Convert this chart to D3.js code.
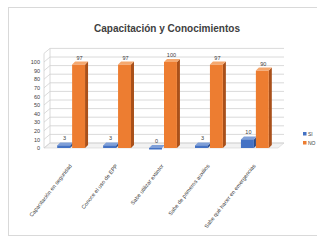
<!DOCTYPE html>
<html>
<head>
<meta charset="utf-8">
<script src="https://cdn.jsdelivr.net/npm/d3@7"></script>
<style>
  body { margin: 0; background: #fff; }
  svg { display: block; font-family: "Liberation Sans", Arial, sans-serif; }
</style>
</head>
<body>
<div class="container"></div>
<script>
const width = 317;
const height = 246;

// datos
const categorias = [
  'Capacitación en seguridad',
  'Conoce el uso de EPP',
  'Sabe utilizar extintor',
  'Sabe de primeros auxilios',
  'Sabe qué hacer en emergencias'
];
const series = ['SI', 'NO'];
const valoresSi = [3, 3, 0, 3, 10];
const valoresNo = [97, 97, 100, 97, 90];
const ticksY = [0, 10, 20, 30, 40, 50, 60, 70, 80, 90, 100];

const colores = {
  SI: { front: '#4472c4', side: '#2a4d8c', top: '#7f9fd8' },
  NO: { front: '#ed7d31', side: '#a9501a', top: '#f5a86f' }
};

// profundidad 3D
const prof = { dx: 6, dy: -5 };

const svg = d3.select('.container')
  .append('svg')
  .attr('width', width)
  .attr('height', height);

// borde del grafico
svg.append('rect')
  .attr('x', 8.5)
  .attr('y', 7.5)
  .attr('width', 330)
  .attr('height', 228)
  .attr('fill', '#fff')
  .attr('stroke', '#d9d9d9');

// titulo
svg.append('text')
  .attr('x', 167)
  .attr('y', 32)
  .attr('text-anchor', 'middle')
  .attr('font-size', 11)
  .attr('font-weight', 'bold')
  .attr('textLength', 146)
  .attr('lengthAdjust', 'spacingAndGlyphs')
  .attr('fill', '#404040')
  .text('Capacitación y Conocimientos');

const x0 = d3.scaleBand()
  .domain(categorias)
  .range([48, 280])
  .paddingInner(0.35)
  .paddingOuter(0.2);

const x1 = d3.scaleBand()
  .domain(series)
  .range([0, x0.bandwidth()]);

const y = d3.scaleLinear()
  .domain([0, 100])
  .range([148, 62]);

const xIni = 44, xFin = 278;

// piso
svg.append('path')
  .attr('d', `M${xIni},${y(0)} L${xFin},${y(0)} L${xFin + prof.dx},${y(0) + prof.dy} L${xIni + prof.dx},${y(0) + prof.dy} Z`)
  .attr('fill', '#f2f2f2')
  .attr('stroke', '#d9d9d9')
  .attr('stroke-width', 0.7);

// lineas de cuadricula (pared del fondo y lateral)
const grid = svg.append('g');
grid.selectAll('line.back')
  .data(ticksY.concat([110]))
  .enter()
  .append('line')
  .attr('x1', xIni + prof.dx)
  .attr('x2', xFin + prof.dx)
  .attr('y1', d => y(d) + prof.dy)
  .attr('y2', d => y(d) + prof.dy)
  .attr('stroke', '#d0d0d0')
  .attr('stroke-width', 0.8);
grid.selectAll('line.side')
  .data(ticksY.concat([110]))
  .enter()
  .append('line')
  .attr('x1', xIni)
  .attr('x2', xIni + prof.dx)
  .attr('y1', d => y(d))
  .attr('y2', d => y(d) + prof.dy)
  .attr('stroke', '#d0d0d0')
  .attr('stroke-width', 0.8);
grid.append('line')
  .attr('x1', xIni).attr('x2', xIni)
  .attr('y1', y(0)).attr('y2', y(110))
  .attr('stroke', '#d0d0d0')
  .attr('stroke-width', 0.8);
grid.append('line')
  .attr('x1', xIni + prof.dx).attr('x2', xIni + prof.dx)
  .attr('y1', y(0) + prof.dy).attr('y2', y(110) + prof.dy)
  .attr('stroke', '#d0d0d0')
  .attr('stroke-width', 0.8);

// eje y
const ejeY = svg.append('g')
  .attr('transform', `translate(${xIni - 2},0)`)
  .call(d3.axisLeft(y).tickValues(ticksY).tickSize(0).tickPadding(2));
ejeY.select('.domain').remove();
ejeY.selectAll('text')
  .attr('font-size', 5.5)
  .attr('fill', '#404040');

// barras 3D
const datos = categorias.map((c, i) => ({ cat: c, SI: valoresSi[i], NO: valoresNo[i] }));
const bw = x1.bandwidth() - 2;
const bd = { dx: 3, dy: -3 };

const grupos = svg.selectAll('.grupo')
  .data(datos)
  .enter()
  .append('g')
  .attr('class', 'grupo')
  .attr('transform', d => `translate(${x0(d.cat)},0)`);

series.forEach(s => {
  const c = colores[s];
  const barra = grupos.append('g');
  // cara lateral
  barra.append('path')
    .attr('d', d => {
      const bx = x1(s) + bw, yt = y(d[s]), yb = y(0);
      return `M${bx},${yb} L${bx + bd.dx},${yb + bd.dy} L${bx + bd.dx},${yt + bd.dy} L${bx},${yt} Z`;
    })
    .attr('fill', c.side);
  // cara superior
  barra.append('path')
    .attr('d', d => {
      const bx = x1(s), yt = y(d[s]);
      return `M${bx},${yt} L${bx + bw},${yt} L${bx + bw + bd.dx},${yt + bd.dy} L${bx + bd.dx},${yt + bd.dy} Z`;
    })
    .attr('fill', c.top);
  // cara frontal
  barra.append('rect')
    .attr('x', x1(s))
    .attr('y', d => y(d[s]))
    .attr('width', bw)
    .attr('height', d => Math.max(1.5, y(0) - y(d[s])))
    .attr('fill', c.front);
  // etiqueta de valor
  barra.append('text')
    .attr('x', x1(s) + bw / 2 + 1)
    .attr('y', d => y(d[s]) + bd.dy - 2)
    .attr('text-anchor', 'middle')
    .attr('font-size', 5.5)
    .attr('fill', '#404040')
    .text(d => d[s]);
});

// etiquetas de categoria
svg.selectAll('.cat')
  .data(categorias)
  .enter()
  .append('text')
  .attr('class', 'cat')
  .attr('transform', d => `translate(${x0(d) + x0.bandwidth() / 2},${y(0) + 18}) rotate(-52)`)
  .attr('text-anchor', 'end')
  .attr('font-size', 5.5)
  .attr('fill', '#404040')
  .text(d => d);

// leyenda
const leyenda = svg.append('g')
  .attr('transform', 'translate(303,132)');
series.forEach((s, i) => {
  leyenda.append('rect')
    .attr('x', 0)
    .attr('y', i * 9)
    .attr('width', 3.5)
    .attr('height', 3.5)
    .attr('fill', colores[s].front);
  leyenda.append('text')
    .attr('x', 5)
    .attr('y', i * 9 + 3.5)
    .attr('font-size', 5)
    .attr('fill', '#404040')
    .text(s);
});
</script>
</body>
</html>
